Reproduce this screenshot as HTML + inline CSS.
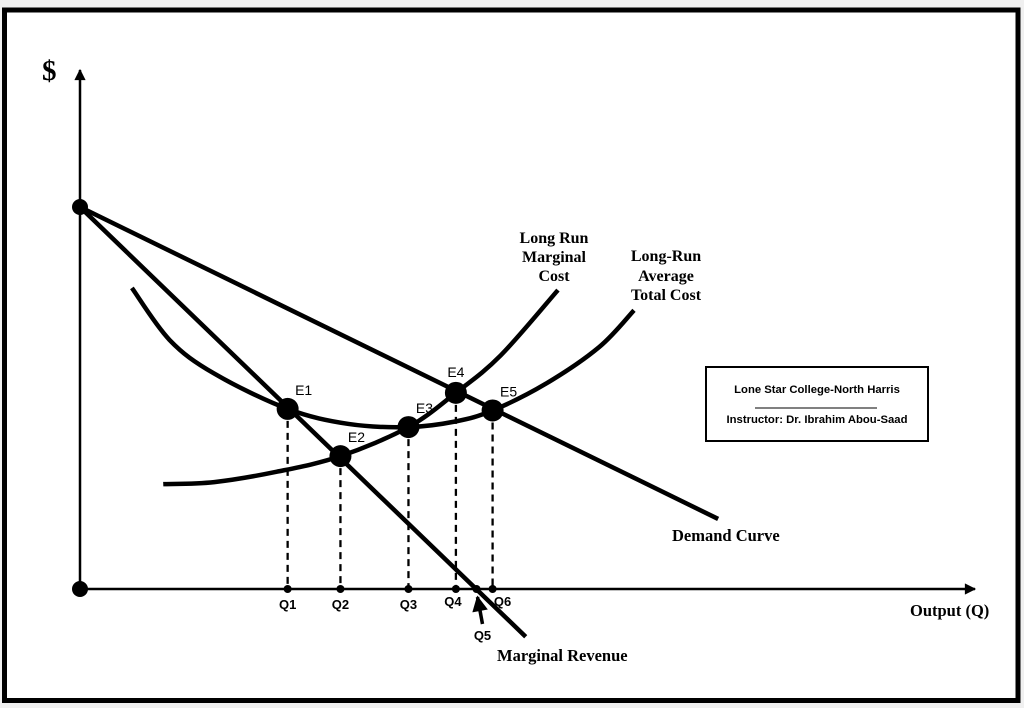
<!DOCTYPE html>
<html><head><meta charset="utf-8"><style>
html,body{margin:0;padding:0;background:#fff;width:1024px;height:708px;overflow:hidden}
svg{display:block}
.serif{font-family:"Liberation Serif",serif;font-weight:bold}
.sans{font-family:"Liberation Sans",sans-serif}
</style></head><body>
<svg id="chart" width="1024" height="708" viewBox="0 0 1024 708">
<rect x="0" y="0" width="1024" height="708" fill="#f0f0f0"/>
<rect x="4.5" y="10" width="1013.5" height="690.5" fill="#fff" stroke="#000" stroke-width="5"/>
<defs><marker id="ah" viewBox="0 0 10 10" refX="9" refY="5" markerWidth="6" markerHeight="4.5" orient="auto"><path d="M0,0L10,5L0,10z" fill="#000"/></marker></defs>
<g id="plot"></g>
<text x="42" y="80" class="serif" font-size="29">$</text>
<text x="910" y="616" class="serif" font-size="16.5">Output (Q)</text>
<g class="serif" font-size="16" text-anchor="middle">
<text x="554" y="243">Long Run</text><text x="554" y="262">Marginal</text><text x="554" y="281">Cost</text></g>
<g class="serif" font-size="16" text-anchor="middle">
<text x="666" y="261">Long-Run</text><text x="666" y="281">Average</text><text x="666" y="300">Total Cost</text></g>
<text x="672" y="541" class="serif" font-size="16.5">Demand Curve</text>
<text x="497" y="661" class="serif" font-size="16.5">Marginal Revenue</text>
<g>
<rect x="706" y="367" width="222" height="74" fill="#fff" stroke="#000" stroke-width="2"/>
<text x="817" y="393" class="sans" font-weight="bold" font-size="11.3" text-anchor="middle">Lone Star College-North Harris</text>
<line x1="755" y1="408" x2="877" y2="408" stroke="#000" stroke-width="1"/>
<text x="817" y="423" class="sans" font-weight="bold" font-size="11.3" text-anchor="middle">Instructor: Dr. Ibrahim Abou-Saad</text>
</g>
</svg>
<script>
const demandQ=[0,71.3], demandP=[73.6,13.5];
const mrQ=[0,49.8], mrP=[73.6,-9.2];
const atcQ=[5.8,10,15,23.2,30,36.7,42,46.1,52,58,61.9];
const atcP=[58.0,48,41.5,34.7,31.8,31.2,32.3,34.4,39.5,46.6,53.7];
const mcQ=[9.3,15,22,29.1,36.7,42,47,53.4];
const mcP=[20.2,20.6,22.6,25.6,31.2,37.8,45,57.6];
const eLabels=["E1","E2","E3","E4","E5"];
const eQ=[23.2,29.1,36.7,42.0,46.1];
const eP=[34.7,25.6,31.2,37.8,34.4];
const qLabels=["Q1","Q2","Q3","Q4","Q5","Q6"];
const qVals=[23.2,29.1,36.7,42.0,44.3,46.1];

const X=q=>80+q*8.95, Y=p=>589-p*5.19;
const NS="http://www.w3.org/2000/svg";
const g=document.getElementById('plot');
function mk(t,a){const e=document.createElementNS(NS,t);for(const k in a)e.setAttribute(k,a[k]);g.appendChild(e);return e;}
function smooth(qs,ps){const pts=qs.map((q,i)=>[X(q),Y(ps[i])]);let d=`M${pts[0][0]},${pts[0][1]}`;
for(let i=0;i<pts.length-1;i++){const p0=pts[i-1]||pts[i],p1=pts[i],p2=pts[i+1],p3=pts[i+2]||p2;
d+=` C${p1[0]+(p2[0]-p0[0])/6},${p1[1]+(p2[1]-p0[1])/6} ${p2[0]-(p3[0]-p1[0])/6},${p2[1]-(p3[1]-p1[1])/6} ${p2[0]},${p2[1]}`;}return d;}
let e=mk('line',{x1:80,y1:589,x2:80,y2:70,stroke:'#000','stroke-width':2.5,'marker-end':'url(#ah)'});


e=mk('line',{x1:80,y1:589,x2:975,y2:589,stroke:'#000','stroke-width':2.5,'marker-end':'url(#ah)'});


eQ.forEach((q,i)=>{const l=mk('line',{x1:X(q),y1:Y(eP[i]),x2:X(q),y2:589,stroke:'#000','stroke-width':2.3,'stroke-dasharray':'7,5'});

});
e=mk('line',{x1:X(demandQ[0]),y1:Y(demandP[0]),x2:X(demandQ[1]),y2:Y(demandP[1]),stroke:'#000','stroke-width':4.5});


e=mk('line',{x1:X(mrQ[0]),y1:Y(mrP[0]),x2:X(mrQ[1]),y2:Y(mrP[1]),stroke:'#000','stroke-width':4.5});


e=mk('path',{d:smooth(atcQ,atcP),fill:'none',stroke:'#000','stroke-width':4.5});


e=mk('path',{d:smooth(mcQ,mcP),fill:'none',stroke:'#000','stroke-width':4.5});


e=mk('circle',{cx:X(0),cy:Y(0),r:8,fill:'#000'});


e=mk('circle',{cx:X(0),cy:Y(demandP[0]),r:8,fill:'#000'});


qVals.forEach((q,i)=>{const c=mk('circle',{cx:X(q),cy:589,r:4,fill:'#000'});


let tx=X(q),ty=609;
if(qLabels[i]==='Q5'){tx=X(q)+6;ty=640;}
if(qLabels[i]==='Q6'){tx=X(q)+10;ty=606;}
if(qLabels[i]==='Q4'){tx=X(q)-3;ty=606;}
const t=mk('text',{x:tx,y:ty,'text-anchor':'middle','font-family':'Liberation Sans, sans-serif','font-weight':'bold','font-size':13});
t.textContent=qLabels[i];


if(qLabels[i]==='Q5'){const a=mk('line',{x1:X(q)+6,y1:624,x2:X(q)+1,y2:597,stroke:'#000','stroke-width':3.5,'marker-end':'url(#ah)'});

}
});
eQ.forEach((q,i)=>{const c=mk('circle',{cx:X(q),cy:Y(eP[i]),r:11,fill:'#000'});


const t=mk('text',{x:X(q)+(i===3?0:16),y:Y(eP[i])-(i===3?16:14),'text-anchor':'middle','font-family':'Liberation Sans, sans-serif','font-size':14});
t.textContent=eLabels[i];

});
</script>
</body></html>
